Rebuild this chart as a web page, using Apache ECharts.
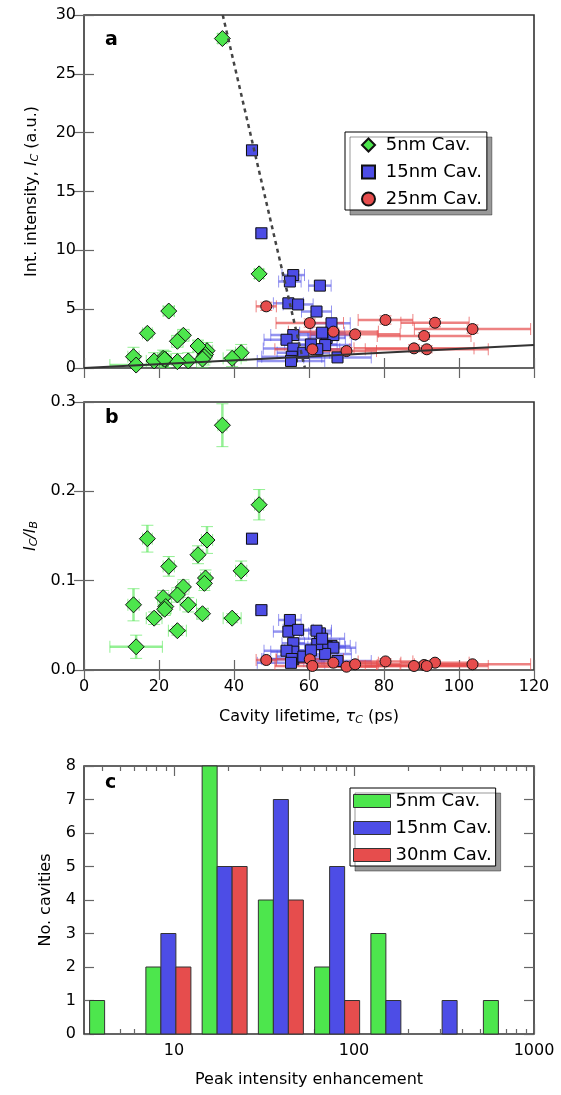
<!DOCTYPE html>
<html>
<head>
<meta charset="utf-8">
<script src="https://cdn.jsdelivr.net/npm/echarts@6.0.0/dist/echarts.min.js"></script>
<style>
  html, body { margin: 0; padding: 0; background: #fff; }
  #chart { width: 561px; height: 1095px; }
</style>
</head>
<body>
<div id="chart"></div>
<script>
// 5nm cavities: lifetime (ps), intensity (a.u.), I_C/I_B, with errors
const gTau = [36.9, 46.7, 16.9, 32.8, 30.4, 22.6, 41.9, 32.4, 32.1, 26.5, 24.9, 21.1, 21.8, 13.2, 27.8, 31.6, 18.7, 39.5, 24.9, 13.9, 21.5];
const gTauErr = [1.2, 1.2, 1.3, 1.5, 1.3, 1.5, 1.5, 1.3, 1.3, 1.5, 1.5, 1.5, 1.5, 1.5, 2.2, 1.5, 2.1, 2.4, 2.4, 7.0, 1.5];
const gInt = [28.0, 8.0, 2.95, 1.47, 1.87, 4.84, 1.3, 1.15, 0.95, 2.78, 2.27, 0.82, 0.7, 0.96, 0.6, 0.76, 0.6, 0.82, 0.54, 0.25, 0.75];
const gIntErr = [0.4, 0.4, 0.3, 0.7, 0.5, 0.4, 0.7, 0.7, 0.7, 0.5, 0.5, 0.7, 0.7, 0.8, 0.7, 0.7, 0.7, 0.7, 0.7, 0.8, 0.7];
const gRatio = [0.274, 0.185, 0.147, 0.1455, 0.129, 0.116, 0.111, 0.103, 0.097, 0.093, 0.084, 0.081, 0.071, 0.073, 0.073, 0.063, 0.058, 0.058, 0.044, 0.026, 0.068];
const gRatioErr = [0.024, 0.017, 0.015, 0.015, 0.01, 0.011, 0.011, 0.009, 0.008, 0.008, 0.008, 0.008, 0.008, 0.018, 0.008, 0.006, 0.007, 0.005, 0.005, 0.013, 0.007];

// 15nm cavities
const bTau = [44.8, 47.3, 55.8, 54.9, 62.9, 54.5, 57.1, 62.0, 66.0, 55.8, 54.0, 64.7, 66.5, 64.3, 55.8, 55.4, 67.6, 62.2, 58.5, 60.5, 55.2, 63.5];
const bTauErr = [1.5, 1.5, 3, 3, 3, 4, 4, 4, 5, 6, 6, 5, 6, 7, 8, 8, 9, 6, 7, 7, 9, 6];
const bInt = [18.5, 11.45, 7.9, 7.35, 7.0, 5.5, 5.4, 4.8, 3.8, 2.8, 2.4, 2.55, 2.8, 1.95, 1.65, 0.96, 0.9, 1.6, 1.3, 2.0, 0.6, 3.0];
const bIntErr = [0.3, 0.3, 0.3, 0.3, 0.3, 0.3, 0.3, 0.3, 0.3, 0.3, 0.3, 0.3, 0.3, 0.3, 0.3, 0.3, 0.3, 0.3, 0.3, 0.3, 0.3, 0.3];
const bRatio = [0.147, 0.067, 0.030, 0.056, 0.041, 0.043, 0.045, 0.044, 0.027, 0.0205, 0.0216, 0.026, 0.025, 0.018, 0.012, 0.0123, 0.010, 0.029, 0.015, 0.022, 0.008, 0.035];
const bRatioErr = [0.006, 0.004, 0.004, 0.004, 0.004, 0.004, 0.004, 0.004, 0.004, 0.004, 0.004, 0.004, 0.004, 0.004, 0.004, 0.004, 0.004, 0.004, 0.004, 0.004, 0.004, 0.004];

// 25nm cavities
const rTau = [48.6, 60.2, 60.9, 66.5, 70.0, 72.3, 80.4, 93.6, 103.6, 90.7, 88.0, 91.4];
const rTauErr = [2.7, 9, 10, 12, 8, 12, 7.3, 9.1, 15.5, 12.5, 16, 16.4];
const rInt = [5.24, 3.82, 1.59, 3.09, 1.44, 2.86, 4.08, 3.85, 3.31, 2.72, 1.67, 1.59];
const rIntErr = [0.35, 0.35, 0.3, 0.3, 0.3, 0.3, 0.35, 0.35, 0.35, 0.3, 0.3, 0.3];
const rRatio = [0.0112, 0.012, 0.0045, 0.0082, 0.0037, 0.0064, 0.0096, 0.0082, 0.0064, 0.0056, 0.0045, 0.0045];
const rRatioErr = [0.002, 0.003, 0.001, 0.002, 0.001, 0.002, 0.003, 0.003, 0.002, 0.002, 0.001, 0.001];

// fit lines in panel a
const fitDashed = [[37, 30], [58.9, 0]];
const fitSolid = [[0, 0], [120, 1.95]];

// panel c histogram (log bins)
const binEdges = [3.162, 6.494, 13.34, 27.38, 56.23, 115.5, 237.1, 487.0, 1000];
const count5 = [1, 2, 8, 4, 2, 3, 0, 1];
const count15 = [0, 3, 5, 7, 5, 1, 1, 0];
const count30 = [0, 2, 5, 4, 1, 0, 0, 0];
const xTicksMajor = [10, 100, 1000];
const xTicksMinor = [4, 5, 6, 7, 8, 9, 20, 30, 40, 50, 60, 70, 80, 90, 200, 300, 400, 500, 600, 700, 800, 900];

const FONT = 'DejaVu Sans';
const GREEN = '#4de64d', BLUE = '#4d4de6', RED = '#e64d4d';

const zip4 = (a, b, c, d) => a.map((v, i) => [v, b[i], c[i], d[i]]);

function errorBars(color) {
  return function (params, api) {
    const x = api.value(0), y = api.value(1), ex = api.value(2), ey = api.value(3);
    const L = api.coord([x - ex, y]), R = api.coord([x + ex, y]);
    const B = api.coord([x, y - ey]), T = api.coord([x, y + ey]);
    const c = 6;
    const bar = { stroke: color, lineWidth: 2.5 };
    const cap = { stroke: color, lineWidth: 1 };
    return {
      type: 'group',
      children: [
        { type: 'line', shape: { x1: L[0], y1: L[1], x2: R[0], y2: R[1] }, style: bar },
        { type: 'line', shape: { x1: B[0], y1: B[1], x2: T[0], y2: T[1] }, style: bar },
        { type: 'line', shape: { x1: L[0], y1: L[1] - c, x2: L[0], y2: L[1] + c }, style: cap },
        { type: 'line', shape: { x1: R[0], y1: R[1] - c, x2: R[0], y2: R[1] + c }, style: cap },
        { type: 'line', shape: { x1: B[0] - c, y1: B[1], x2: B[0] + c, y2: B[1] }, style: cap },
        { type: 'line', shape: { x1: T[0] - c, y1: T[1], x2: T[0] + c, y2: T[1] }, style: cap }
      ]
    };
  };
}

function errSeries(name, color, data, xi, yi) {
  return {
    type: 'custom', name: name + ' err', xAxisIndex: xi, yAxisIndex: yi,
    renderItem: errorBars(color), encode: { x: 0, y: 1 }, clip: true,
    data: data, z: 2, silent: true
  };
}

function scatterSeries(name, symbol, size, color, data, xi, yi) {
  return {
    type: 'scatter', name: name, xAxisIndex: xi, yAxisIndex: yi,
    symbol: symbol, symbolSize: size, data: data, z: 3,
    itemStyle: { color: color, borderColor: '#111', borderWidth: 1, opacity: 1 }
  };
}

// histogram bars: series k of 3 share 80% of each log bin
function histSeries(name, color, counts, k) {
  return {
    type: 'custom', name: name, xAxisIndex: 4, yAxisIndex: 4,
    itemStyle: { color: color, borderColor: '#333', borderWidth: 1 },
    encode: { x: 0, y: 1 },
    data: counts.map((c, i) => [Math.log10(binEdges[i]), c, i]),
    renderItem: function (params, api) {
      const cnt = api.value(1);
      if (!cnt) return null;
      const i = api.value(2);
      const lo = Math.log10(binEdges[i]), hi = Math.log10(binEdges[i + 1]);
      const w = (hi - lo) * 0.8 / 3;
      const x0 = lo + (hi - lo) * 0.1 + w * k;
      const p0 = api.coord([x0, cnt]);
      const p1 = api.coord([x0 + w, 0]);
      return {
        type: 'rect',
        shape: { x: p0[0], y: p0[1], width: p1[0] - p0[0], height: p1[1] - p0[1] },
        style: api.style()
      };
    }
  };
}

const tick = (len) => ({ show: true, inside: true, length: len, lineStyle: { color: '#666', width: 1.2 } });
const lbl = { fontFamily: FONT, fontSize: 16, color: '#000' };
const rich = {
  n: { fontFamily: FONT, fontSize: 16, color: '#000' },
  i: { fontFamily: FONT, fontSize: 16, fontStyle: 'italic', color: '#000' },
  s: { fontFamily: FONT, fontSize: 11, fontStyle: 'italic', color: '#000', verticalAlign: 'bottom', padding: [7, 0, 0, 0] }
};

function axis(gridIndex, position, min, max, interval, extra) {
  return Object.assign({
    type: 'value', gridIndex: gridIndex, position: position,
    min: min, max: max, interval: interval,
    axisLine: { show: false }, splitLine: { show: false },
    axisTick: tick(10), axisLabel: { show: false }
  }, extra || {});
}

const gridBox = { show: true, borderColor: '#333', borderWidth: 1.6, backgroundColor: 'transparent' };
const legendBox = {
  orient: 'vertical', selectedMode: false,
  backgroundColor: '#fff', borderColor: '#000', borderWidth: 1, borderRadius: 0,
  shadowColor: 'rgba(0,0,0,0.4)', shadowBlur: 0, shadowOffsetX: 5, shadowOffsetY: 5,
  textStyle: { fontFamily: FONT, fontSize: 18, color: '#000', lineHeight: 20 }
};

const option = {
  animation: false,
  textStyle: { fontFamily: FONT },
  grid: [
    Object.assign({ left: 84, top: 15, width: 450, height: 353 }, gridBox),
    Object.assign({ left: 84, top: 402, width: 450, height: 268 }, gridBox),
    Object.assign({ left: 84, top: 766, width: 450, height: 268 }, gridBox)
  ],
  xAxis: [
    axis(0, 'bottom', 0, 120, 20),
    axis(0, 'top', 0, 120, 20),
    axis(1, 'bottom', 0, 120, 20, {
      axisLabel: Object.assign({ show: true, margin: 9 }, lbl),
      name: '{n|Cavity lifetime, }{i|τ}{s|C}{n| (ps)}',
      nameLocation: 'middle', nameGap: 38, nameTextStyle: { rich: rich }
    }),
    axis(1, 'top', 0, 120, 20),
    axis(2, 'bottom', 0.5, 3, null, {
      axisTick: Object.assign(tick(10), { customValues: xTicksMajor.map(Math.log10) }),
      axisLabel: Object.assign({
        show: true, margin: 9,
        customValues: xTicksMajor.map(Math.log10),
        formatter: (v) => String(Math.round(Math.pow(10, v)))
      }, lbl),
      name: 'Peak intensity enhancement', nameLocation: 'middle', nameGap: 38,
      nameTextStyle: lbl
    }),
    axis(2, 'bottom', 0.5, 3, null, {
      axisTick: Object.assign(tick(5), { customValues: xTicksMinor.map(Math.log10) })
    }),
    axis(2, 'top', 0.5, 3, null, {
      axisTick: Object.assign(tick(10), { customValues: xTicksMajor.map(Math.log10) })
    }),
    axis(2, 'top', 0.5, 3, null, {
      axisTick: Object.assign(tick(5), { customValues: xTicksMinor.map(Math.log10) })
    })
  ],
  yAxis: [
    axis(0, 'left', 0, 30, 5, {
      axisLabel: Object.assign({ show: true, margin: 8 }, lbl),
      name: '{n|Int. intensity, }{i|I}{s|C}{n| (a.u.)}',
      nameLocation: 'middle', nameGap: 43, nameTextStyle: { rich: rich }
    }),
    axis(0, 'right', 0, 30, 5),
    axis(1, 'left', 0, 0.3, 0.1, {
      axisLabel: Object.assign({ show: true, margin: 8, formatter: (v) => v.toFixed(1) }, lbl),
      name: '{i|I}{s|C}{i|/I}{s|B}',
      nameLocation: 'middle', nameGap: 43, nameTextStyle: { rich: rich }
    }),
    axis(1, 'right', 0, 0.3, 0.1),
    axis(2, 'left', 0, 8, 1, {
      axisLabel: Object.assign({ show: true, margin: 8 }, lbl),
      name: 'No. cavities', nameLocation: 'middle', nameGap: 30, nameTextStyle: lbl
    }),
    axis(2, 'right', 0, 8, 1)
  ],
  legend: [
    Object.assign({
      left: 345, top: 132,
      itemWidth: 13, itemHeight: 13, itemGap: 7,
      padding: [3, 5, 1, 16],
      formatter: (n) => ' ' + n,
      data: [
        { name: '5nm Cav.', icon: 'diamond' },
        { name: '15nm Cav.', icon: 'rect' },
        { name: '25nm Cav.', icon: 'circle' }
      ]
    }, legendBox),
    Object.assign({
      left: 350, top: 788,
      itemWidth: 37, itemHeight: 13, itemGap: 7,
      padding: [3, 4, 1, 3],
      data: [
        { name: '5nm Cav.', icon: 'rect', itemStyle: { color: GREEN, borderColor: '#333', borderWidth: 1 } },
        { name: '15nm Cav.', icon: 'rect', itemStyle: { color: BLUE, borderColor: '#333', borderWidth: 1 } },
        { name: '30nm Cav.', icon: 'rect', itemStyle: { color: RED, borderColor: '#333', borderWidth: 1 } }
      ]
    }, legendBox)
  ],
  graphic: [
    { type: 'text', left: 105, top: 31, style: { text: 'a', font: 'bold 19px "DejaVu Sans"', fill: '#000' } },
    { type: 'text', left: 105, top: 409, style: { text: 'b', font: 'bold 19px "DejaVu Sans"', fill: '#000' } },
    { type: 'text', left: 105, top: 774, style: { text: 'c', font: 'bold 19px "DejaVu Sans"', fill: '#000' } }
  ],
  series: [
    // panel a
    errSeries('5nm', 'rgba(77,230,77,0.6)', zip4(gTau, gInt, gTauErr, gIntErr), 0, 0),
    errSeries('15nm', 'rgba(77,77,230,0.6)', zip4(bTau, bInt, bTauErr, bIntErr), 0, 0),
    errSeries('25nm', 'rgba(230,77,77,0.7)', zip4(rTau, rInt, rTauErr, rIntErr), 0, 0),
    scatterSeries('5nm Cav.', 'diamond', 16, GREEN, gTau.map((t, i) => [t, gInt[i]]), 0, 0),
    scatterSeries('15nm Cav.', 'rect', 11, BLUE, bTau.map((t, i) => [t, bInt[i]]), 0, 0),
    scatterSeries('25nm Cav.', 'circle', 11, RED, rTau.map((t, i) => [t, rInt[i]]), 0, 0),
    {
      type: 'line', xAxisIndex: 0, yAxisIndex: 0, data: fitDashed, symbol: 'none', z: 4, silent: true,
      lineStyle: { color: '#444', width: 2.5, type: [4, 4] }
    },
    {
      type: 'line', xAxisIndex: 0, yAxisIndex: 0, data: fitSolid, symbol: 'none', z: 4, silent: true,
      lineStyle: { color: '#333', width: 2 }
    },
    // panel b
    errSeries('5nm', 'rgba(77,230,77,0.6)', zip4(gTau, gRatio, gTauErr, gRatioErr), 2, 2),
    errSeries('15nm', 'rgba(77,77,230,0.6)', zip4(bTau, bRatio, bTauErr, bRatioErr), 2, 2),
    errSeries('25nm', 'rgba(230,77,77,0.7)', zip4(rTau, rRatio, rTauErr, rRatioErr), 2, 2),
    scatterSeries('5nm Cav.', 'diamond', 16, GREEN, gTau.map((t, i) => [t, gRatio[i]]), 2, 2),
    scatterSeries('15nm Cav.', 'rect', 11, BLUE, bTau.map((t, i) => [t, bRatio[i]]), 2, 2),
    scatterSeries('25nm Cav.', 'circle', 11, RED, rTau.map((t, i) => [t, rRatio[i]]), 2, 2),
    // panel c
    histSeries('5nm Cav.', GREEN, count5, 0),
    histSeries('15nm Cav.', BLUE, count15, 1),
    histSeries('30nm Cav.', RED, count30, 2)
  ]
};

const myChart = echarts.init(document.getElementById('chart'));
myChart.setOption(option);
window.addEventListener('resize', function () {
  myChart.resize();
});
</script>
</body>
</html>
